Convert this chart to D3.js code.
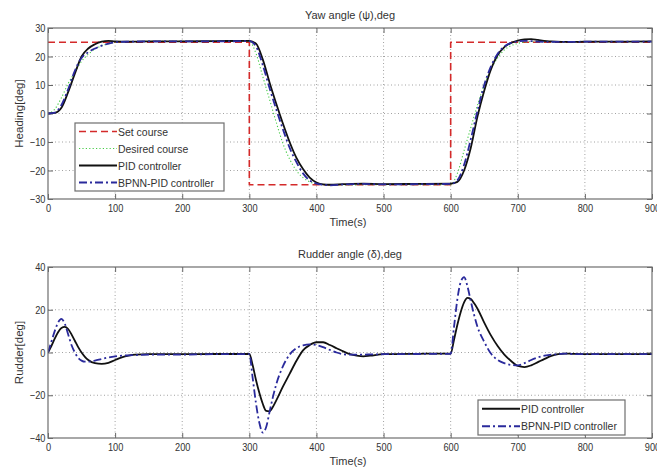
<!DOCTYPE html>
<html>
<head>
<meta charset="utf-8">
<script src="https://cdn.jsdelivr.net/npm/d3@7"></script>
<style>
  html, body { margin: 0; padding: 0; background: #fff; }
  svg { display: block; }
  text { font-family: "Liberation Sans", Arial, Helvetica, sans-serif; fill: #333; }
</style>
</head>
<body>
<svg id="chart" width="657" height="471"></svg>
<script>
// ---- Heading response (deg) ----
const headingTime = [0,10,20,30,40,50,60,70,80,90,100,120,150,200,250,300,
  310,320,330,340,350,360,370,380,390,400,410,420,440,470,500,550,600,
  610,620,630,640,650,660,670,680,690,700,710,720,730,750,780,800,850,900];

const desiredCourse = [0,1.5,5.5,10.5,14.5,18.3,20.8,22.6,23.8,24.5,25,25.2,25.3,25.3,25.3,25.3,
  21,13,5,-3,-10.5,-16,-20,-22.5,-24,-24.7,-25,-25.1,-25.1,-25,-25,-25,-25,
  -21,-13,-5,3,10,15.5,19.5,22.3,23.8,24.6,25,25.2,25.2,25.2,25.2,25.2,25.2,25.2];

const pidHeading = [0,0.2,2,7.5,14,20,22.8,24.3,25.2,25.5,25.3,25.2,25.3,25.3,25.4,25.5,
  24.5,19,11,3.5,-3.5,-10,-15.5,-19.5,-22.5,-24.2,-24.9,-25,-24.8,-24.6,-24.8,-24.7,-24.6,
  -24,-20,-12,-1,8,15.5,20.5,23.3,24.8,25.6,26,26.1,25.8,25.3,25.1,25.2,25.2,25.3];

const bpnnHeading = [0,0.3,3,8.5,15,19.5,21.5,22.8,23.8,24.5,25,25.2,25.3,25.3,25.3,25.4,
  23.5,17,9,1.5,-5.5,-12,-17,-21,-23.5,-24.6,-25,-25.2,-24.9,-24.7,-24.9,-24.8,-24.7,
  -23.5,-18,-9,1,10,16.5,21,23.5,24.8,25.3,25.5,25.4,25.2,25.1,25.1,25.2,25.2,25.2];

// set-point steps: [time, heading]
const setTime  = [0,300,300,600,600,900];
const setValue = [25,25,-25,-25,25,25];

// ---- Rudder command (deg) ----
const rudderTime = [0,5,10,15,20,25,30,35,40,45,50,55,60,70,80,90,100,110,120,130,150,200,250,300,
  305,310,315,320,325,330,335,340,350,360,370,380,390,400,410,420,430,440,450,460,470,480,500,550,600,
  605,610,615,620,625,630,635,640,650,660,670,680,690,700,710,720,730,740,750,760,770,780,800,850,900];

const pidRudder = [0,3,6.5,9.5,11.5,12,11,8.5,5.5,2.5,0,-2,-3.5,-5,-5.3,-4.8,-3.5,-2.3,-1.5,-1,-0.8,-0.8,-0.7,-0.7,
  -6,-13,-19,-24,-27.3,-27.5,-25.5,-22.5,-16,-10,-4,1,3.5,4.8,4.8,3.5,2,0.5,-0.8,-1.5,-1.8,-1.5,-0.8,-0.6,-0.5,
  6,13,19,23.5,25.6,25,23,20.5,14,8,3,-1,-4,-6.3,-6.8,-6,-4.5,-3,-1.6,-0.8,-0.5,-0.6,-0.8,-0.8,-0.8];

const bpnnRudder = [0,5,10,14,15.7,13.5,8.5,3.5,0,-2.5,-3.8,-4.3,-4.3,-3.8,-3,-2.3,-1.8,-1.5,-1.3,-1.2,-1,-1,-0.8,-0.8,
  -12,-24,-33,-37.5,-35,-28,-21,-15,-6.5,-1,2,3.3,3.8,3.5,2.5,1.2,0,-0.8,-1,-1,-1,-0.9,-0.8,-0.7,-0.6,
  12,25,33,35.3,31,24,17.5,12,5,-0.5,-3.5,-5,-5.8,-6,-5,-3.5,-2.3,-1.5,-1,-0.8,-0.5,-0.7,-0.8,-0.8,-0.8];

const timeTicks = [0,100,200,300,400,500,600,700,800,900];
const headingTicks = [-30,-20,-10,0,10,20,30];
const rudderTicks = [-40,-20,0,20,40];

const svg = d3.select("#chart");
const plotLeft = 48, plotRight = 652;

const x = d3.scaleLinear().domain([0, 900]).range([plotLeft, plotRight]);

const styles = {
  set:     { stroke: "#d42a2a", width: 1.6, dash: "7,4" },
  desired: { stroke: "#46cc46", width: 1.1, dash: "1.2,2.2" },
  pid:     { stroke: "#111",    width: 1.8, dash: null },
  bpnn:    { stroke: "#2a2a9c", width: 1.8, dash: "8,3,2,3" }
};

function panel(top, bottom, yDomain, yTicks, title, yLabel) {
  const y = d3.scaleLinear().domain(yDomain).range([bottom, top]);
  const g = svg.append("g");

  // dotted grid
  g.append("g").selectAll("line").data(timeTicks.slice(1, -1)).join("line")
    .attr("x1", d => x(d)).attr("x2", d => x(d))
    .attr("y1", top).attr("y2", bottom)
    .attr("stroke", "#8a8a8a").attr("stroke-width", 0.8).attr("stroke-dasharray", "1,2.5");
  g.append("g").selectAll("line").data(yTicks.slice(1, -1)).join("line")
    .attr("x1", plotLeft).attr("x2", plotRight)
    .attr("y1", d => y(d)).attr("y2", d => y(d))
    .attr("stroke", "#8a8a8a").attr("stroke-width", 0.8).attr("stroke-dasharray", "1,2.5");

  // axes with inward ticks on all four sides
  const tickLen = 5;
  const axB = g.append("g").attr("transform", `translate(0,${bottom})`)
    .call(d3.axisBottom(x).tickValues(timeTicks).tickSize(-tickLen).tickPadding(5));
  const axT = g.append("g").attr("transform", `translate(0,${top})`)
    .call(d3.axisTop(x).tickValues(timeTicks).tickSize(-tickLen).tickFormat(""));
  const axL = g.append("g").attr("transform", `translate(${plotLeft},0)`)
    .call(d3.axisLeft(y).tickValues(yTicks).tickSize(-tickLen).tickPadding(3));
  const axR = g.append("g").attr("transform", `translate(${plotRight},0)`)
    .call(d3.axisRight(y).tickValues(yTicks).tickSize(-tickLen).tickFormat(""));
  [axB, axT, axL, axR].forEach(a => {
    a.select(".domain").remove();
    a.selectAll(".tick line").attr("stroke", "#666");
    a.selectAll("text").attr("font-size", 11).attr("fill", "#333")
      .style("font-family", '"Liberation Sans", Arial, Helvetica, sans-serif')
      .attr("transform", "scale(0.84,1)");
  });

  // clip series to the plot box
  const clipId = "clip" + top;
  svg.append("clipPath").attr("id", clipId).append("rect")
    .attr("x", plotLeft).attr("y", top - 1).attr("width", plotRight - plotLeft).attr("height", bottom - top + 2);
  const plot = g.append("g").attr("clip-path", `url(#${clipId})`);

  // frame
  g.append("rect").attr("x", plotLeft).attr("y", top).attr("width", plotRight - plotLeft).attr("height", bottom - top)
    .attr("fill", "none").attr("stroke", "#6e6e6e").attr("stroke-width", 1.2);

  g.append("text").attr("x", (plotLeft + plotRight) / 2).attr("y", top - 9)
    .attr("text-anchor", "middle").attr("font-size", 11).text(title);
  g.append("text").attr("x", (plotLeft + plotRight) / 2 - 2).attr("y", bottom + 27)
    .attr("text-anchor", "middle").attr("font-size", 11).text("Time(s)");
  g.append("text").attr("transform", `translate(23,${(top + bottom) / 2}) rotate(-90)`)
    .attr("text-anchor", "middle").attr("font-size", 11.5).text(yLabel);

  return { y, plot, g };
}

function drawSeries(p, ts, vs, st, curve) {
  const line = d3.line().x(d => x(d[0])).y(d => p.y(d[1])).curve(curve || d3.curveMonotoneX);
  p.plot.append("path").datum(ts.map((t, i) => [t, vs[i]]))
    .attr("d", line).attr("fill", "none")
    .attr("stroke", st.stroke).attr("stroke-width", st.width)
    .attr("stroke-dasharray", st.dash).attr("stroke-linejoin", "round");
}

function legend(p, x0, y0, w, h, items) {
  const lg = p.g.append("g");
  lg.append("rect").attr("x", x0).attr("y", y0).attr("width", w).attr("height", h)
    .attr("fill", "#fff").attr("stroke", "#6e6e6e").attr("stroke-width", 1.2);
  const step = h / items.length;
  items.forEach((it, i) => {
    const cy = y0 + step * (i + 0.5);
    lg.append("line").attr("x1", x0 + 4).attr("x2", x0 + 42).attr("y1", cy).attr("y2", cy)
      .attr("stroke", it.style.stroke).attr("stroke-width", it.style.width)
      .attr("stroke-dasharray", it.style.dash);
    lg.append("g").attr("transform", `translate(${x0 + 43},${cy}) scale(0.91,1)`)
      .append("text").attr("dy", "0.36em").attr("font-size", 11.5).text(it.label);
  });
}

// Yaw angle panel
const yawPanel = panel(28, 199, [-30, 30], headingTicks, "Yaw angle (\u03c8),deg", "Heading[deg]");
drawSeries(yawPanel, setTime, setValue, styles.set, d3.curveLinear);
drawSeries(yawPanel, headingTime, desiredCourse, styles.desired);
drawSeries(yawPanel, headingTime, pidHeading, styles.pid);
drawSeries(yawPanel, headingTime, bpnnHeading, styles.bpnn);
legend(yawPanel, 75, 123, 149, 68, [
  { label: "Set course", style: styles.set },
  { label: "Desired course", style: styles.desired },
  { label: "PID controller", style: styles.pid },
  { label: "BPNN-PID controller", style: styles.bpnn }
]);

// Rudder angle panel
const rudderPanel = panel(267, 438, [-40, 40], rudderTicks, "Rudder angle (\u03b4),deg", "Rudder[deg]");
drawSeries(rudderPanel, rudderTime, pidRudder, styles.pid);
drawSeries(rudderPanel, rudderTime, bpnnRudder, styles.bpnn);
legend(rudderPanel, 478, 400, 147, 35, [
  { label: "PID controller", style: styles.pid },
  { label: "BPNN-PID controller", style: styles.bpnn }
]);
</script>
</body>
</html>
